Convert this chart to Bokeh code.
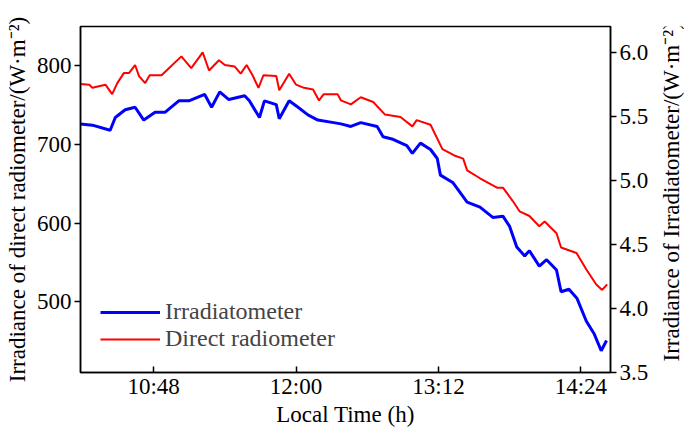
import math
from bokeh.plotting import figure
from bokeh.layouts import row
from bokeh.models import Range1d, LinearAxis, Legend, LegendItem, FixedTicker, NumeralTickFormatter
from bokeh.core.properties import value
from bokeh.embed import file_html
from bokeh.resources import INLINE

# time in minutes after midnight
red_t = [611,615.5,617,623.6,627,629.6,633,635.6,638.6,640.6,643.7,646,652,655.7,662,667,672.8,676,681,684,689,692,695,698,701,703.5,710,711.5,716.5,720,724,728.6,731.6,734,741,742.7,747.7,752.7,759,765,772.8,778.8,781,788,794,800,804.5,806.5,813,821.6,824.6,829.6,833,838,843,845.7,851.7,854,861.8,866.8,871.8,874.8,877.3]
red_v = [777,776,772,776,764,778,791,791,801,787,778,788,788,797,812,797,817,794,807,801,799,790,801,788,772,788,787,769,790,776,772,770,756,764,764,756,751,760,754,738,735,723,731,725,694,686,682,667,657,645,645,628,615,609,596,602,587,569,562,541,522,515,522]
blue_t = [611,617,626,628.6,633.6,638.6,643,648.7,653.7,660.7,665.8,673.8,677.3,681.4,686,694,696.4,701.5,704,710,711.5,716.5,721,726,731,739,742.7,747.7,752.7,761,764,769,776,778.8,782.9,788,791.4,793,799.4,806.5,813,819.5,824.6,828,831.6,835.6,838,843,846.7,851.7,854,858,862,866.8,870.8,874.3,877]
blue_v = [5.44,5.43,5.39,5.49,5.55,5.57,5.47,5.53,5.53,5.62,5.62,5.67,5.57,5.69,5.63,5.66,5.62,5.49,5.62,5.59,5.48,5.62,5.57,5.51,5.47,5.45,5.44,5.42,5.45,5.42,5.34,5.32,5.27,5.21,5.29,5.24,5.17,5.04,4.98,4.83,4.79,4.71,4.72,4.64,4.48,4.41,4.45,4.33,4.38,4.30,4.13,4.15,4.08,3.90,3.80,3.67,3.75]
x_ticks = [648, 720, 792, 864]
x_labels = ["10:48", "12:00", "13:12", "14:24"]
right_title = "Irradiance of Irradiatometer/(W·m⁻²)"

F = "Liberation Serif"
p = figure(width=654, height=429, output_backend="svg", toolbar_location=None,
           x_range=Range1d(611, 879), y_range=Range1d(410, 850),
           min_border_left=80, min_border_top=26, min_border_right=44, min_border_bottom=50)
p.extra_y_ranges = {"r": Range1d(3.5, 6.2)}
p.xgrid.visible = False
p.ygrid.visible = False
p.outline_line_color = "black"
p.outline_line_width = 1.5

lr = p.line(red_t, red_v, color="#ff0000", line_width=2)
lb = p.line(blue_t, blue_v, color="#0000ff", line_width=3, y_range_name="r")

ax_r = LinearAxis(y_range_name="r", ticker=FixedTicker(ticks=[3.5,4.0,4.5,5.0,5.5,6.0]),
                  formatter=NumeralTickFormatter(format="0.0"))
p.add_layout(ax_r, "right")
p.yaxis[0].ticker = FixedTicker(ticks=[500,600,700,800])
p.yaxis[0].axis_label = "Irradiance of direct radiometer/(W·m⁻²)"
p.xaxis.ticker = FixedTicker(ticks=x_ticks)
p.xaxis.major_label_overrides = {t: l for t, l in zip(x_ticks, x_labels)}
p.xaxis.axis_label = "Local Time (h)"
p.xaxis.major_tick_in = 6
p.xaxis.major_tick_out = 0
for ax in [p.xaxis[0], p.yaxis[0], ax_r]:
    ax.axis_line_color = "black"
    ax.axis_line_width = 1.5
    ax.minor_tick_line_color = None
    ax.major_label_text_font = F
    ax.major_label_text_font_size = "23px"
    ax.major_label_text_color = "black"
    ax.axis_label_text_font = F
    ax.axis_label_text_font_size = "23px"
    ax.axis_label_text_font_style = "normal"
    ax.axis_label_text_color = "black"
    ax.major_tick_line_width = 1.5
for ax in [p.yaxis[0], ax_r]:
    ax.major_tick_in = 0
    ax.major_tick_out = 6
    ax.axis_label_standoff = 4
    ax.major_label_standoff = 3
p.xaxis.axis_label_standoff = 0
p.xaxis.major_label_standoff = 1

leg = Legend(items=[LegendItem(label="Irradiatometer", renderers=[lb]),
                    LegendItem(label="Direct radiometer", renderers=[lr])],
             location="bottom_left", background_fill_alpha=0, border_line_color=None,
             label_text_font=F, label_text_font_size="24px", glyph_width=60,
             spacing=0, margin=20, padding=4, label_height=26)
p.add_layout(leg)

p2 = figure(width=30, height=429, output_backend="svg", toolbar_location=None,
            x_range=Range1d(0, 30), y_range=Range1d(0, 429), min_border=0)
p2.axis.visible = False
p2.grid.visible = False
p2.outline_line_color = None
p2.text(x=[17], y=[224], text=[right_title], angle=math.pi / 2,
        text_font=value(F), text_font_size="23px", text_align="center",
        text_baseline="middle", text_color="black")

open("out.html", "w").write(file_html(row(p, p2, spacing=0), INLINE))
